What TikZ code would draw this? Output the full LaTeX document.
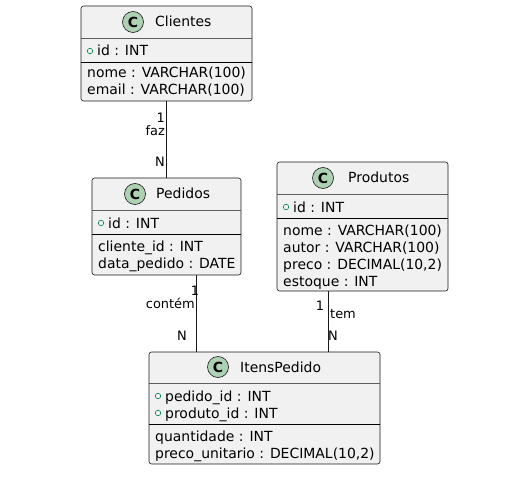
\documentclass[tikz,border=0pt]{standalone}
\usepackage{fontspec}
\setmainfont{DejaVu Sans}
\definecolor{boxfill}{HTML}{F1F1F1}
\definecolor{boxline}{HTML}{181818}
\definecolor{iconfill}{HTML}{ADD1B2}
\definecolor{pubcolor}{HTML}{038048}
\tikzset{
  classbox/.style={draw=boxline, fill=boxfill, rounded corners=2.5bp, line width=0.6bp, inner sep=0pt},
  icon/.style={circle, draw=boxline, fill=iconfill, line width=0.6bp, minimum size=21bp, inner sep=0pt, font=\fontsize{14}{14}\selectfont\bfseries},
  title/.style={anchor=base west, inner sep=0pt, font=\fontsize{14}{16}\selectfont},
  field/.style={anchor=base west, inner sep=0pt, font=\fontsize{14}{16}\selectfont},
  pub/.style={circle, draw=pubcolor, line width=0.6bp, minimum size=5.5bp, inner sep=0pt},
  headsep/.style={draw=boxline!70, line width=0.5bp},
  fieldsep/.style={draw=black, line width=0.8bp},
  link/.style={draw=boxline, line width=0.8bp},
  mult/.style={inner sep=0pt, font=\fontsize{13}{15}\selectfont},
}
\begin{document}
\begin{tikzpicture}[x=1bp, y=-1bp]
  \useasboundingbox (0,0) rectangle (505,486);

  % Class boxes
  \node[classbox, minimum width=171bp, minimum height=95bp] (clientes) at (166.5,53.5) {};
  \node[classbox, minimum width=149bp, minimum height=97bp] (pedidos) at (166.5,226.5) {};
  \node[classbox, minimum width=171bp, minimum height=129bp] (produtos) at (362.5,226.5) {};
  \node[classbox, minimum width=231bp, minimum height=112bp] (itens) at (264.5,408) {};

  % Clientes
  \node[icon] (cliC) at (133,22) {C};
  \node[title] (cliT) at (155,27) {Clientes};
  \draw[headsep] (81,38) -- (252,38);
  \node[pub] (cliP) at (90,51) {};
  \node[field] (cliId) at (97,56) {id : INT};
  \draw[fieldsep] (81,62) -- (252,62);
  \node[field] (cliNome) at (87,78) {nome : VARCHAR(100)};
  \node[field] (cliEmail) at (87,95) {email : VARCHAR(100)};

  % Pedidos
  \node[icon] (pedC) at (135,194) {C};
  \node[title] (pedT) at (156,199) {Pedidos};
  \draw[headsep] (92,210) -- (241,210);
  \node[pub] (pedP) at (101,223) {};
  \node[field] (pedId) at (108,228) {id : INT};
  \draw[fieldsep] (92,234) -- (241,234);
  \node[field] (pedCli) at (98,251) {cliente\_id : INT};
  \node[field] (pedData) at (98,268) {data\_pedido : DATE};

  % Produtos
  \node[icon] (proC) at (323,178) {C};
  \node[title] (proT) at (348,183) {Produtos};
  \draw[headsep] (277,194) -- (448,194);
  \node[pub] (proP) at (286,207) {};
  \node[field] (proId) at (293,212) {id : INT};
  \draw[fieldsep] (277,218) -- (448,218);
  \node[field] (proNome) at (283,235) {nome : VARCHAR(100)};
  \node[field] (proAutor) at (283,252) {autor : VARCHAR(100)};
  \node[field] (proPreco) at (283,269) {preco : DECIMAL(10,2)};
  \node[field] (proEstoque) at (283,286) {estoque : INT};

  % ItensPedido
  \node[icon] (itC) at (218,367) {C};
  \node[title] (itT) at (240,372) {ItensPedido};
  \draw[headsep] (149,383) -- (380,383);
  \node[pub] (itP1) at (158,396) {};
  \node[field] (itPed) at (165,401) {pedido\_id : INT};
  \node[pub] (itP2) at (158,413) {};
  \node[field] (itProd) at (165,418) {produto\_id : INT};
  \draw[fieldsep] (149,424) -- (380,424);
  \node[field] (itQtd) at (155,441) {quantidade : INT};
  \node[field] (itPreco) at (155,458) {preco\_unitario : DECIMAL(10,2)};

  % Relations
  \coordinate (k1) at (196,0);
  \coordinate (k2) at (328.5,0);
  \draw[link] (clientes.south) -- (pedidos.north);
  \draw[link] (pedidos.south -| k1) -- (itens.north -| k1);
  \draw[link] (produtos.south -| k2) -- (itens.north -| k2);

  % Labels
  \node[mult, anchor=base east] (m1) at (165,123) {1};
  \node[mult, anchor=base east] (m2) at (165,136) {faz};
  \node[mult, anchor=base east] (m3) at (165,167) {N};
  \node[mult, anchor=base] (m4) at (195,295) {1};
  \node[mult, anchor=base east] (m5) at (195,308) {contém};
  \node[mult, anchor=base] (m6) at (182,340) {N};
  \node[mult, anchor=base] (m7) at (320,310) {1};
  \node[mult, anchor=base west] (m8) at (330,318) {tem};
  \node[mult, anchor=base] (m9) at (333,340) {N};
\end{tikzpicture}
\end{document}
